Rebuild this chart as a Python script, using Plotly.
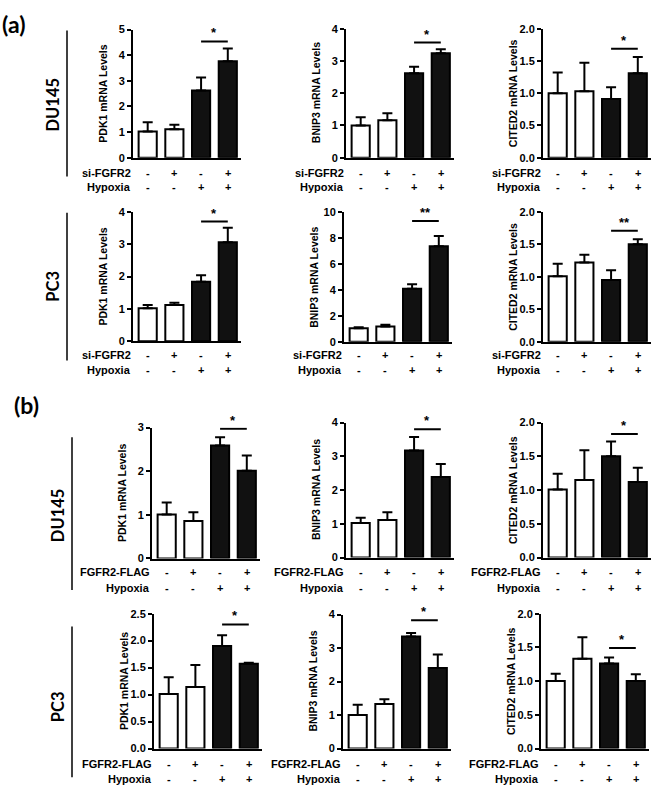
import plotly.graph_objects as go

# ---------------- data ----------------
genes = ["PDK1", "BNIP3", "CITED2"]
signs_treat = ["-", "+", "-", "+"]
signs_hypoxia = ["-", "-", "+", "+"]
treat_a = "si-FGFR2"
treat_b = "FGFR2-FLAG"

# (a) DU145
a_du_pdk1 = [1.02, 1.11, 2.62, 3.77]
a_du_pdk1_err = [0.36, 0.18, 0.51, 0.49]
a_du_bnip3 = [1.00, 1.16, 2.62, 3.24]
a_du_bnip3_err = [0.25, 0.22, 0.20, 0.12]
a_du_cited2 = [1.00, 1.03, 0.91, 1.31]
a_du_cited2_err = [0.32, 0.44, 0.18, 0.25]
# (a) PC3
a_pc_pdk1 = [1.02, 1.12, 1.84, 3.06]
a_pc_pdk1_err = [0.10, 0.07, 0.20, 0.45]
a_pc_bnip3 = [1.04, 1.17, 4.09, 7.35]
a_pc_bnip3_err = [0.08, 0.15, 0.33, 0.80]
a_pc_cited2 = [1.01, 1.22, 0.95, 1.50]
a_pc_cited2_err = [0.19, 0.12, 0.15, 0.08]
# (b) DU145
b_du_pdk1 = [1.01, 0.86, 2.59, 2.01]
b_du_pdk1_err = [0.27, 0.20, 0.19, 0.35]
b_du_bnip3 = [1.02, 1.11, 3.17, 2.39]
b_du_bnip3_err = [0.16, 0.23, 0.40, 0.38]
b_du_cited2 = [1.01, 1.15, 1.50, 1.12]
b_du_cited2_err = [0.23, 0.44, 0.22, 0.21]
# (b) PC3
b_pc_pdk1 = [1.01, 1.14, 1.90, 1.57]
b_pc_pdk1_err = [0.31, 0.41, 0.20, 0.02]
b_pc_bnip3 = [1.00, 1.33, 3.35, 2.41]
b_pc_bnip3_err = [0.31, 0.14, 0.10, 0.40]
b_pc_cited2 = [1.00, 1.33, 1.26, 1.00]
b_pc_cited2_err = [0.11, 0.32, 0.09, 0.10]

# axis maxima / ticks
ymax = [[5, 4, 2], [4, 10, 2], [3, 4, 2], [2.5, 4, 2]]
dtick = [[1, 1, 0.5], [1, 2, 0.5], [1, 1, 0.5], [0.5, 1, 0.5]]
# significance bar level and label (between bars 3 and 4)
sig_level = [[4.54, 3.57, 1.69], [3.70, 9.30, 1.71], [2.97, 3.80, 1.83], [2.30, 3.83, 1.49]]
sig_text = [["*", "*", "*"], ["*", "**", "**"], ["*", "*", "*"], ["*", "*", "*"]]

means = [[a_du_pdk1, a_du_bnip3, a_du_cited2],
         [a_pc_pdk1, a_pc_bnip3, a_pc_cited2],
         [b_du_pdk1, b_du_bnip3, b_du_cited2],
         [b_pc_pdk1, b_pc_bnip3, b_pc_cited2]]
errs = [[a_du_pdk1_err, a_du_bnip3_err, a_du_cited2_err],
        [a_pc_pdk1_err, a_pc_bnip3_err, a_pc_cited2_err],
        [b_du_pdk1_err, b_du_bnip3_err, b_du_cited2_err],
        [b_pc_pdk1_err, b_pc_bnip3_err, b_pc_cited2_err]]
row_treat = [treat_a, treat_a, treat_b, treat_b]

# ---------------- layout geometry (pixels) ----------------
W, H = 652, 792
# (axis x, top y, zero y) per subplot
geom = [[(133, 24, 154), (346, 23, 154), (543, 23, 154)],
        [(133, 209, 340.5), (344, 209, 341), (543, 209, 341)],
        [(152, 428, 561), (346, 423, 560), (543, 423, 560)],
        [(154, 617, 754), (343, 618, 754), (541, 617, 754)]]
label_rows = [(170, 184), (354, 370), (575, 591), (770, 785)]
xr = [-0.55, 3.5]
px_per_cat = 26.7
dom_w = (xr[1] - xr[0]) * px_per_cat

FONT = "Liberation Sans, Arial, sans-serif"
BIG = "Lato, Open Sans, sans-serif"

fig = go.Figure()
layout = dict(width=W, height=H, margin=dict(l=0, r=0, t=0, b=0),
              paper_bgcolor="white", plot_bgcolor="white", showlegend=False,
              bargap=0.3)
annotations = []
shapes = []

def py(y):
    return 1 - y / H

k = 0
for r in range(4):
    for c in range(3):
        k += 1
        sx = "" if k == 1 else str(k)
        ax0, top, zero = geom[r][c]
        colors = ["white", "white", "#111111", "#111111"]
        fig.add_trace(go.Bar(
            x=[0, 1, 2, 3], y=means[r][c], width=0.68,
            marker=dict(color=colors, line=dict(color="black", width=2)),
            error_y=dict(type="data", array=errs[r][c], arrayminus=[0, 0, 0, 0],
                         symmetric=False, color="black", thickness=2, width=5),
            xaxis="x" + sx, yaxis="y" + sx))
        layout["xaxis" + sx] = dict(
            domain=[ax0 / W, (ax0 + dom_w) / W], range=xr, anchor="y" + sx,
            showline=True, linewidth=2, linecolor="black", showgrid=False,
            zeroline=False, showticklabels=False, ticks="", fixedrange=True)
        layout["yaxis" + sx] = dict(
            domain=[py(zero), py(top)], range=[0, ymax[r][c]], anchor="x" + sx,
            dtick=dtick[r][c], tick0=0,
            tickformat=".1f" if dtick[r][c] < 1 else "d",
            showline=True, linewidth=2, linecolor="black", showgrid=False,
            zeroline=False, ticks="outside", ticklen=4, tickwidth=2,
            tickcolor="black",
            tickfont=dict(family=FONT, size=11, color="black", weight="bold"))
        # y axis title
        annotations.append(dict(
            text=f"{genes[c]} mRNA Levels", xref="x" + sx + " domain", x=0,
            xshift=-30, yref="y" + sx + " domain", y=0.5, textangle=-90,
            showarrow=False, xanchor="center", yanchor="middle",
            font=dict(family=FONT, size=10.5, color="black", weight="bold")))
        # significance
        shapes.append(dict(type="line", xref="x" + sx, yref="y" + sx,
                           x0=2, x1=3, y0=sig_level[r][c], y1=sig_level[r][c],
                           line=dict(color="black", width=2)))
        annotations.append(dict(
            text=sig_text[r][c], xref="x" + sx, x=2.5, yref="y" + sx,
            y=sig_level[r][c], showarrow=False, yanchor="bottom", yshift=-1,
            font=dict(family=FONT, size=13, color="black", weight="bold")))
        # condition rows
        ly1, ly2 = label_rows[r]
        for name, sg, ly in [(row_treat[r], signs_treat, ly1),
                             ("Hypoxia", signs_hypoxia, ly2)]:
            annotations.append(dict(
                text=name, xref="x" + sx + " domain", x=0, xshift=0,
                xanchor="right", yref="paper", y=py(ly), yanchor="middle",
                showarrow=False,
                font=dict(family=FONT, size=11, color="black", weight="bold")))
            for i, s in enumerate(sg):
                annotations.append(dict(
                    text=s, xref="x" + sx, x=i, yref="paper", y=py(ly),
                    yanchor="middle", showarrow=False,
                    font=dict(family=FONT, size=11, color="black", weight="bold")))

# side cell-line labels and lines
side = [("DU145", 67, 25, 173, 53, 100), ("PC3", 67, 210, 360, 53, 285),
        ("DU145", 72, 438, 593, 58, 517), ("PC3", 72, 630, 783, 58, 712)]
for txt, lx, y0, y1, tx, ty in side:
    shapes.append(dict(type="line", xref="paper", yref="paper",
                       x0=lx / W, x1=lx / W, y0=py(y0), y1=py(y1),
                       line=dict(color="black", width=1.5)))
    annotations.append(dict(text=txt, xref="paper", yref="paper", x=tx / W,
                            y=py(ty), textangle=-90, showarrow=False,
                            xanchor="center", yanchor="middle",
                            font=dict(family=BIG, size=16.5, color="black",
                                      weight="bold")))

annotations.append(dict(text="(a)", xref="paper", yref="paper", x=0, y=py(18),
                        xanchor="left", yanchor="middle", showarrow=False,
                        font=dict(family=BIG, size=23, color="black", weight="bold")))
annotations.append(dict(text="(b)", xref="paper", yref="paper", x=12 / W, y=py(405),
                        xanchor="left", yanchor="middle", showarrow=False,
                        font=dict(family=BIG, size=23, color="black", weight="bold")))

layout["annotations"] = annotations
layout["shapes"] = shapes
fig.update_layout(**layout)
fig.write_html(
    "out.html",
    config={"displayModeBar": False},
    post_script="document.body.style.margin='0';document.body.style.padding='0';"
                "document.documentElement.style.overflow='hidden';")
